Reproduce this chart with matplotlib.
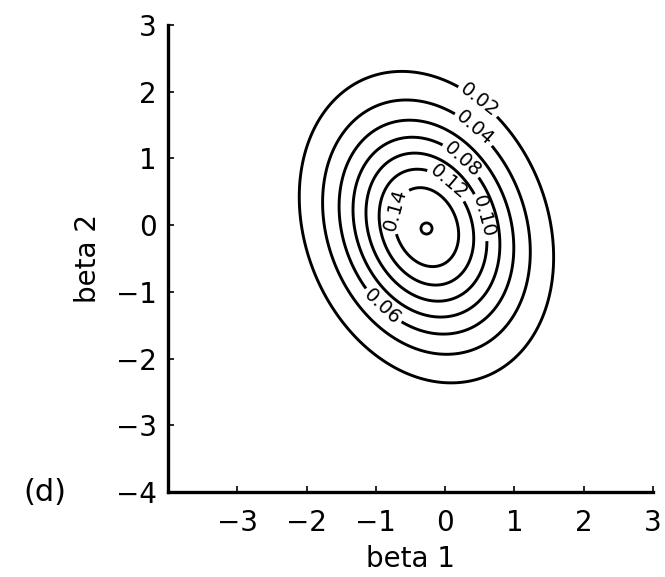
import numpy as np
import matplotlib.pyplot as plt

# contour levels of the surface
levels = [0.02, 0.04, 0.06, 0.08, 0.10, 0.12, 0.14]

# peak height, centre and covariance of the surface
peak = 0.16
centre = [-0.27, -0.03]
cov = [[0.81, -0.20],
       [-0.20, 1.31]]

# marked mode
mode = [-0.28, -0.04]

# where each contour gets its label (beta 1, beta 2), one per level
label_pos = [(0.38, 1.73), (0.35, 1.36), (-0.85, -1.16), (0.18, 0.91),
             (0.47, 0.10), (-0.06, 0.51), (-0.60, 0.20)]

xticks = [-3, -2, -1, 0, 1, 2, 3]
yticks = [-4, -3, -2, -1, 0, 1, 2, 3]

b1 = np.linspace(-4, 3, 400)
b2 = np.linspace(-4, 3, 400)
X, Y = np.meshgrid(b1, b2)
inv = np.linalg.inv(np.array(cov))
dx = X - centre[0]
dy = Y - centre[1]
q = inv[0, 0] * dx**2 + 2 * inv[0, 1] * dx * dy + inv[1, 1] * dy**2
Z = peak * np.exp(-0.5 * q)

fig = plt.figure(figsize=(6.65, 5.77), dpi=100)
ax = fig.add_axes([0.2526, 0.1473, 0.7294, 0.8094])

# one contour set per level so each label lands on its own curve
for lv, pos in zip(levels, label_pos):
    cs = ax.contour(X, Y, Z, levels=[lv], colors='black', linewidths=2.1)
    ax.clabel(cs, fmt='%.2f', fontsize=14, inline=True, inline_spacing=3,
              manual=[pos])
ax.plot(mode[0], mode[1], 'o', ms=8, mfc='white', mec='black', mew=2)

ax.set_xlim(-4, 3)
ax.set_ylim(-4, 3)
ax.set_xticks(xticks)
ax.set_yticks(yticks)
ax.tick_params(direction='in', length=4, width=1.2, labelsize=20)
ax.tick_params(axis='x', pad=12)
ax.tick_params(axis='y', pad=8)
for side in ['top', 'right']:
    ax.spines[side].set_visible(False)
for side in ['left', 'bottom']:
    ax.spines[side].set_linewidth(2.4)

ax.set_xlabel('beta 1', fontsize=20, labelpad=6)
ax.set_ylabel('beta 2', fontsize=20, labelpad=10)
fig.text(0.068, 0.147, '(d)', fontsize=22, ha='center', va='center')

fig.savefig('out.png', dpi=100)
